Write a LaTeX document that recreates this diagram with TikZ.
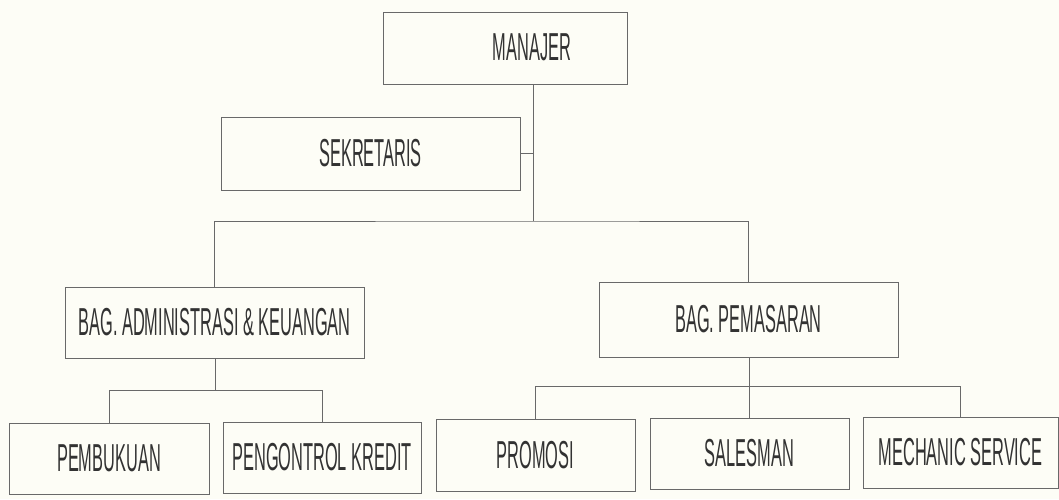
\documentclass[tikz,border=0pt]{standalone}
\usepackage{fontspec}
\newfontfamily\narrowfont[FakeStretch=0.42]{Liberation Sans}
\definecolor{paper}{RGB}{253,253,246}
\definecolor{ink}{RGB}{50,50,50}
\definecolor{rule}{RGB}{105,105,105}
\begin{document}
\begin{tikzpicture}[x=0.5pt,y=-0.5pt,
  orgbox/.style={draw=rule, line width=0.5pt, rectangle, inner sep=0pt, fill=none},
  lbl/.style={text=ink, font=\narrowfont\fontsize{19.5}{21}\selectfont, inner sep=0pt},
  conn/.style={draw=rule, line width=0.5pt}]
  \fill[paper] (0,0) rectangle (1059,499);
  \useasboundingbox (0,0) rectangle (1059,499);

  % boxes
  \node[orgbox, minimum width=122pt, minimum height=36pt] (man) at (505,48) {};
  \node[lbl] (mant) at (532,47) {MANAJER};
  \node[orgbox, lbl, minimum width=149.5pt, minimum height=36.5pt] (sek) at (370.5,153.5) {SEKRETARIS};
  \node[orgbox, lbl, minimum width=149.5pt, minimum height=35.5pt] (adm) at (214.5,322.5) {BAG. ADMINISTRASI \& KEUANGAN};
  \node[orgbox, lbl, minimum width=149.5pt, minimum height=37.5pt] (pem) at (748.5,319.5) {BAG. PEMASARAN};
  \node[orgbox, lbl, minimum width=100pt, minimum height=35.5pt] (pmb) at (109,458.5) {PEMBUKUAN};
  \node[orgbox, lbl, minimum width=99pt, minimum height=35.5pt] (kre) at (322,457.5) {PENGONTROL KREDIT};
  \node[orgbox, lbl, minimum width=99.5pt, minimum height=36pt] (pro) at (535.5,455) {PROMOSI};
  \node[orgbox, lbl, minimum width=99.5pt, minimum height=35.5pt] (sal) at (749.5,453.5) {SALESMAN};
  \node[orgbox, lbl, minimum width=97.5pt, minimum height=35.5pt] (mec) at (960.5,452.5) {MECHANIC SERVICE};

  % junctions
  \coordinate (j1) at (533,221);
  \coordinate (j2) at (215,390);
  \coordinate (j3) at (749,386);

  % connectors
  \draw[conn] (man.south -| j1) -- (j1);
  \draw[conn] (sek.east) -- (sek.east -| j1);
  \draw[conn] (adm.north) |- (j1) -| (pem.north);
  \draw[conn] (adm.south -| j2) -- (j2);
  \draw[conn] (pmb.north) |- (j2) -| (kre.north);
  \draw[conn] (pem.south -| j3) -- (j3);
  \draw[conn] (pro.north) |- (j3) -| (mec.north);
  \draw[conn] (j3) -- (sal.north -| j3);
\end{tikzpicture}
\end{document}
